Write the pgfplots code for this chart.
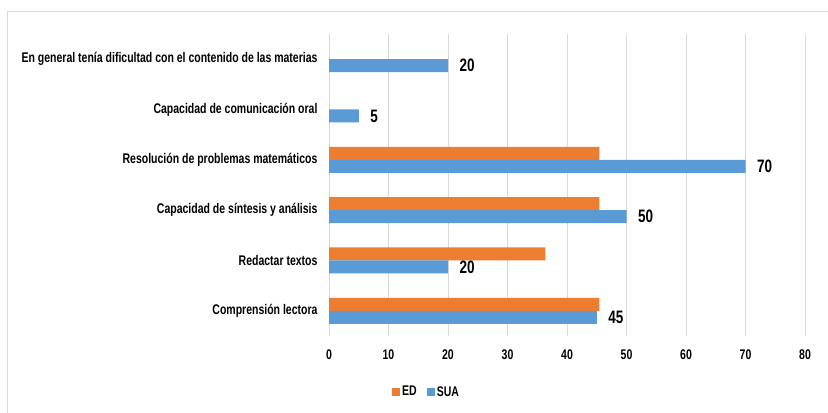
\documentclass[border=0pt]{standalone}
\usepackage{pgfplots}
\pgfplotsset{compat=1.18}
\usepackage{fontspec}
\setmainfont{Liberation Sans}[FakeStretch=0.75]

\definecolor{edorange}{HTML}{ED7D31}
\definecolor{suablue}{HTML}{5B9BD5}
\definecolor{gridc}{HTML}{D9D9D9}

\begin{document}
\begin{tikzpicture}
  \useasboundingbox (0,0) rectangle (828bp,413bp);
  % chart frame (only top and left edges are in view)
  \draw[gridc, line width=1bp] (7bp,-5bp) -- (7bp,401bp) -- (835bp,401bp);

  \begin{axis}[
      at={(329bp,77bp)}, anchor=south west,
      scale only axis,
      width=476bp, height=302bp,
      xbar,
      bar width=13bp,
      xmin=0, xmax=80,
      ymin=-0.5, ymax=5.5,
      xtick={0,10,...,80},
      ytick={0,1,2,3,4,5},
      yticklabels={
        Comprensión lectora,
        Redactar textos,
        Capacidad de síntesis y análisis,
        Resolución de problemas matemáticos,
        Capacidad de comunicación oral,
        En general tenía dificultad con el contenido de las materias
      },
      major tick length=0pt,
      axis line style={draw=none},
      xmajorgrids,
      grid style={gridc, line width=1bp},
      /pgf/number format/assume math mode=true,
      ticklabel style={font=\fontsize{14bp}{16bp}\selectfont\bfseries},
      xticklabel shift=10bp,
      yticklabel shift=8bp,
      legend style={
        at={(0.205,-0.185)}, anchor=center,
        draw=none, fill=none,
        legend columns=2,
        font=\fontsize{14bp}{16bp}\selectfont\bfseries,
        /tikz/every even column/.append style={column sep=8bp},
      },
      legend image code/.code={
        \fill[#1] (0bp,-4bp) rectangle (8bp,4bp);
      },
    ]

    % ED
    \addplot[fill=edorange, draw=none, bar shift=6.5bp] coordinates {
      (45.45,0) % Comprension lectora
      (36.36,1) % Redactar textos
      (45.45,2) % Sintesis y analisis
      (45.45,3) % Problemas matematicos
    };

    % SUA
    \addplot[fill=suablue, draw=none, bar shift=-6.5bp,
      point meta=x,
      nodes near coords,
      nodes near coords style={
        font=\fontsize{18bp}{20bp}\selectfont\bfseries,
        text=black, anchor=west, xshift=8bp},
    ] coordinates {
      (45,0)
      (20,1)
      (50,2)
      (70,3)
      (5,4)
      (20,5)
    };

    \legend{ED, SUA}
  \end{axis}
\end{tikzpicture}
\end{document}
